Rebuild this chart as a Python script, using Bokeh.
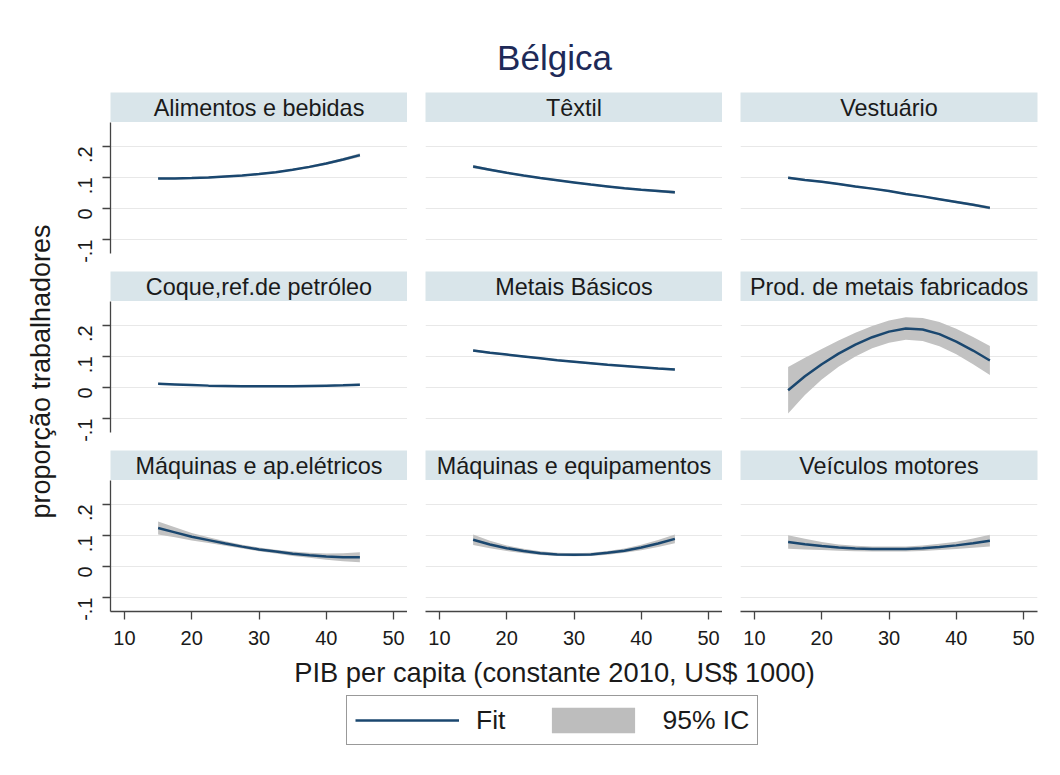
import math
from bokeh.plotting import figure
from bokeh.models import (Range1d, LinearAxis, FixedTicker, CustomJSTickFormatter,
                          Legend, LegendItem, ColumnDataSource)
from bokeh.layouts import row, column
from bokeh.embed import file_html
from bokeh.resources import INLINE
from bokeh.core.properties import value

# ---------------- data ----------------
title_text = "Bélgica"
x_label = "PIB per capita (constante 2010, US$ 1000)"
y_label = "proporção trabalhadores"
panel_names = ["Alimentos e bebidas", "Têxtil", "Vestuário",
               "Coque,ref.de petróleo", "Metais Básicos", "Prod. de metais fabricados",
               "Máquinas e ap.elétricos", "Máquinas e equipamentos", "Veículos motores"]
x_ticks = [10, 20, 30, 40, 50]
y_ticks = [-0.1, 0.0, 0.1, 0.2]

gdp = [15, 17.5, 20, 22.5, 25, 27.5, 30, 32.5, 35, 37.5, 40, 42.5, 45]

fit_alimentos = [.097, .097, .098, .100, .103, .106, .111, .117, .125, .134, .145, .158, .172]
lo_alimentos  = [.093, .094, .095, .097, .100, .103, .108, .114, .122, .130, .141, .153, .166]
hi_alimentos  = [.101, .100, .101, .103, .106, .109, .114, .120, .128, .138, .149, .163, .178]

fit_textil = [.135, .125, .115, .106, .098, .091, .084, .077, .071, .065, .060, .056, .052]
lo_textil  = [.130, .121, .112, .103, .095, .088, .081, .074, .068, .062, .057, .052, .047]
hi_textil  = [.140, .129, .118, .109, .101, .094, .087, .080, .074, .068, .063, .060, .057]

fit_vestuario = [.099, .092, .086, .079, .071, .064, .056, .047, .039, .030, .021, .012, .002]
lo_vestuario  = [.095, .089, .083, .076, .068, .061, .053, .044, .036, .027, .017, .008, -.003]
hi_vestuario  = [.103, .095, .089, .082, .074, .067, .059, .050, .042, .033, .025, .016, .007]

fit_coque = [.012, .010, .008, .006, .005, .004, .004, .004, .004, .005, .006, .007, .009]
lo_coque  = [.009, .008, .006, .004, .003, .002, .002, .002, .002, .003, .004, .004, .005]
hi_coque  = [.015, .012, .010, .008, .007, .006, .006, .006, .006, .007, .008, .010, .013]

fit_metais = [.119, .112, .106, .100, .094, .088, .083, .078, .073, .069, .065, .061, .058]
lo_metais  = [.115, .109, .103, .097, .091, .085, .080, .075, .070, .066, .062, .058, .054]
hi_metais  = [.123, .115, .109, .103, .097, .091, .086, .081, .076, .072, .068, .064, .062]

fit_prod = [-.009, .036, .075, .109, .138, .162, .180, .190, .187, .172, .148, .119, .087]
lo_prod  = [-.084, -.024, .026, .067, .100, .126, .144, .154, .150, .133, .107, .075, .040]
hi_prod  = [.066, .096, .124, .151, .176, .198, .216, .226, .224, .211, .189, .163, .134]

fit_maqel = [.124, .110, .096, .085, .074, .064, .055, .048, .041, .036, .032, .030, .030]
lo_maqel  = [.103, .094, .084, .076, .067, .058, .049, .042, .034, .028, .022, .017, .014]
hi_maqel  = [.145, .126, .108, .094, .081, .070, .061, .054, .048, .044, .042, .043, .046]

fit_maqeq = [.086, .071, .059, .050, .043, .039, .038, .039, .044, .051, .061, .074, .089]
lo_maqeq  = [.069, .059, .050, .043, .037, .034, .033, .034, .038, .044, .052, .063, .075]
hi_maqeq  = [.103, .083, .068, .057, .049, .044, .043, .044, .050, .058, .070, .085, .103]

fit_veic = [.079, .072, .066, .061, .058, .056, .056, .056, .059, .063, .068, .075, .083]
lo_veic  = [.057, .055, .053, .051, .049, .048, .048, .048, .050, .053, .056, .060, .064]
hi_veic  = [.101, .089, .079, .071, .067, .064, .064, .064, .068, .073, .080, .090, .102]

series = [
    (fit_alimentos, lo_alimentos, hi_alimentos),
    (fit_textil, lo_textil, hi_textil),
    (fit_vestuario, lo_vestuario, hi_vestuario),
    (fit_coque, lo_coque, hi_coque),
    (fit_metais, lo_metais, hi_metais),
    (fit_prod, lo_prod, hi_prod),
    (fit_maqel, lo_maqel, hi_maqel),
    (fit_maqeq, lo_maqeq, hi_maqeq),
    (fit_veic, lo_veic, hi_veic),
]

# ---------------- style ----------------
FONT = "Liberation Sans"
TXT = "#1a1a1a"
TITLE_C = "#1e2a58"
NAVY = "#1a476f"
CI_C = "#c2c2c2"
STRIP_C = "#d9e5ea"
GRID_C = "#e8e8e8"
AXIS_C = "#444444"

FW, FH, SH = 297, 131, 30
XR = (7.92, 52.08)
YR = (-0.145, 0.277)
left_b = [50, 18, 18]
right_b = [0, 0, 15]
bottom_b = [18, 18, 46]

fmt = CustomJSTickFormatter(code="""
if (Math.abs(tick) < 1e-9) { return "0"; }
return tick.toFixed(1).replace("0.", ".");
""")


def blank(**kw):
    p = figure(toolbar_location=None, output_backend="svg", title=None,
               x_axis_location=None, y_axis_location=None,
               outline_line_color=None, **kw)
    p.grid.visible = False
    return p


def axis_style():
    return dict(axis_line_color=AXIS_C, axis_line_width=1.3,
                major_tick_line_color=AXIS_C, major_tick_line_width=1.3,
                major_tick_out=8, major_tick_in=0,
                minor_tick_line_color=None,
                major_label_text_font=FONT,
                major_label_text_font_size="20px",
                major_label_text_color=TXT)


grid_rows = []
for r in range(3):
    cells = []
    for c in range(3):
        i = r * 3 + c
        fit, lo, hi = series[i]
        strip = blank(frame_width=FW, frame_height=SH,
                      x_range=Range1d(0, 1), y_range=Range1d(0, SH),
                      min_border_left=left_b[c], min_border_right=right_b[c],
                      min_border_top=0, min_border_bottom=0,
                      background_fill_color=STRIP_C)
        strip.text(x=[0.5], y=[SH / 2], text=[panel_names[i]], text_align="center",
                   text_baseline="middle", text_font=value(FONT),
                   text_font_size="23.4px", text_color=TXT)

        p = figure(toolbar_location=None, output_backend="svg", title=None,
                   x_axis_location=None, y_axis_location=None,
                   outline_line_color=None,
                   frame_width=FW, frame_height=FH,
                   x_range=Range1d(*XR), y_range=Range1d(*YR),
                   min_border_left=left_b[c], min_border_right=right_b[c],
                   min_border_top=0, min_border_bottom=bottom_b[r])
        p.xgrid.visible = False
        p.ygrid.ticker = FixedTicker(ticks=y_ticks)
        p.ygrid.grid_line_color = GRID_C
        p.ygrid.grid_line_width = 1

        src = ColumnDataSource(dict(x=gdp, fit=fit, lo=lo, hi=hi))
        p.varea(x="x", y1="lo", y2="hi", source=src, fill_color=CI_C)
        p.line(x="x", y="fit", source=src, line_color=NAVY, line_width=2.5)

        if c == 0:
            ya = LinearAxis(ticker=FixedTicker(ticks=y_ticks), formatter=fmt,
                            major_label_orientation=math.pi / 2,
                            major_label_standoff=17, **axis_style())
            p.add_layout(ya, "left")
        if r == 2:
            xa = LinearAxis(ticker=FixedTicker(ticks=x_ticks),
                            major_label_standoff=11, **axis_style())
            p.add_layout(xa, "below")
        cells.append(column(strip, p))
    grid_rows.append(row(*cells))

W = 1052
# title
TH = 92
title_fig = blank(width=W, height=TH, x_range=Range1d(0, W), y_range=Range1d(0, TH),
                  min_border=0)
title_fig.text(x=[554], y=[TH - 57], text=[title_text], text_align="center",
               text_baseline="middle", text_font=value(FONT),
               text_font_size="35px", text_color=TITLE_C)

# y label
GH = (SH + FH) * 3 + sum(bottom_b)
YW = 60
ylab_fig = blank(width=YW, height=GH, x_range=Range1d(0, YW), y_range=Range1d(0, GH),
                 min_border=0)
ylab_fig.text(x=[40.6], y=[GH - 279], text=[y_label], angle=math.pi / 2,
              text_align="center", text_baseline="middle",
              text_font=value(FONT), text_font_size="27px", text_color=TXT)

# x label + legend
BH = 110
bottom = blank(width=W, height=BH, x_range=Range1d(0, W), y_range=Range1d(0, BH),
               min_border=0)
bottom.text(x=[554], y=[BH - 14.6], text=[x_label], text_align="center",
            text_baseline="middle", text_font=value(FONT),
            text_font_size="27.3px", text_color=TXT)
nan = float("nan")
r_fit = bottom.line(x=[nan], y=[nan], line_color=NAVY, line_width=2.5)
r_ci = bottom.quad(left=[nan], right=[nan], top=[nan], bottom=[nan],
                   fill_color="#bdbdbd", line_color=None)
leg = Legend(items=[LegendItem(label="Fit", renderers=[r_fit]),
                    LegendItem(label="95% IC", renderers=[r_ci])],
             location=(346, 22), orientation="horizontal",
             glyph_width=104, glyph_height=32, label_standoff=17, spacing=36,
             padding=8, margin=0, border_line_color="#333333", border_line_width=1.2,
             label_text_font=FONT, label_text_font_size="26.5px",
             label_text_color=TXT, background_fill_color="white",
             background_fill_alpha=1)
bottom.add_layout(leg)

layout = column(title_fig, row(ylab_fig, column(*grid_rows)), bottom)

with open("out.html", "w") as f:
    f.write(file_html(layout, INLINE))
